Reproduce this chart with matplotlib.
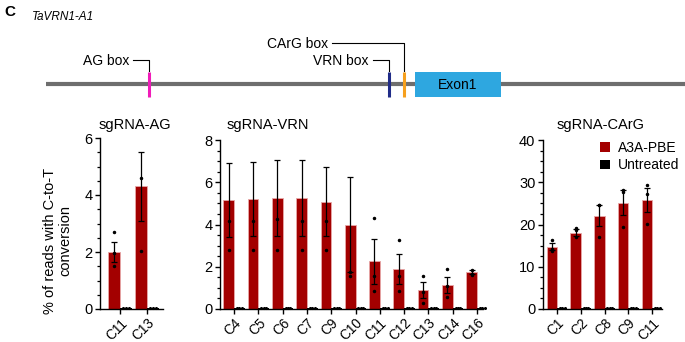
import matplotlib
matplotlib.use('Agg')
import matplotlib.pyplot as plt
from matplotlib.ticker import MultipleLocator
from matplotlib.patches import Rectangle, Patch

plt.rcParams['font.family'] = ['Liberation Sans', 'DejaVu Sans']

# ---- data ----
ag_sites = ['C11', 'C13']
ag_mean = [2.0, 4.3]
ag_err = [0.35, 1.2]
ag_points = [[2.7, 1.95, 1.5], [4.6, 2.05]]

vrn_sites = ['C4', 'C5', 'C6', 'C7', 'C9', 'C10', 'C11', 'C12', 'C13', 'C14', 'C16']
vrn_mean = [5.16, 5.2, 5.26, 5.24, 5.08, 4.0, 2.25, 1.9, 0.9, 1.15, 1.75]
vrn_err = [1.73, 1.76, 1.79, 1.79, 1.63, 2.27, 1.05, 0.71, 0.4, 0.38, 0.08]
vrn_points = [[4.16, 2.79], [4.16, 2.79], [4.24, 2.79], [4.16, 2.79], [4.16, 2.79],
              [1.75, 1.57], [4.3, 1.57, 0.86], [3.27, 1.57, 0.86], [1.57, 0.82, 0.3],
              [1.87, 1.1, 0.55], [1.85, 1.65, 1.6]]

carg_sites = ['C1', 'C2', 'C8', 'C9', 'C11']
carg_mean = [14.75, 18.07, 22.1, 25.2, 25.8]
carg_err = [0.85, 0.75, 2.5, 3.0, 2.75]
carg_points = [[16.3, 14.2, 13.7], [19.2, 18.8, 17.0], [24.6, 24.5, 17.0],
               [28.2, 27.8, 19.5], [29.3, 27.2, 20.1]]

untreated_frac = 0.008  # untreated values as fraction of axis max (near zero)

# gene schematic (pixel positions along the figure)
features = ['AG box', 'VRN box', 'CArG box']
feature_x = [149, 389, 404]
feature_colors = ['#F01CB8', '#202C88', '#F6A01E']

W, H = 685, 342
RED = '#A30000'

fig = plt.figure(figsize=(W / 100, H / 100), dpi=100)


def px_axes(x0, x1, ytop, ybot):
    return fig.add_axes([x0 / W, 1 - ybot / H, (x1 - x0) / W, (ybot - ytop) / H])


def panel(ax, sites, mean, err, points, ymax, major, minor, xlim):
    n = len(sites)
    xs = list(range(n))
    bw = 0.44
    red_x = [x - bw / 2 for x in xs]
    unt_x = [x + bw / 2 for x in xs]
    ax.bar(red_x, mean, width=bw, color=RED, edgecolor='#E8A8A8', linewidth=0.6, zorder=2)
    ax.errorbar(red_x, mean, yerr=err, fmt='none', ecolor='black', elinewidth=0.9,
                capsize=2.5, capthick=0.9, zorder=3)
    for x, pts in zip(red_x, points):
        ax.plot([x] * len(pts), pts, 'o', color='black', ms=1.5, zorder=4, clip_on=True)
    unt = [ymax * untreated_frac] * n
    ax.bar(unt_x, unt, width=bw, color='black', zorder=2)
    for x in unt_x:
        ax.plot([x - 0.1, x, x + 0.1], [ymax * 0.004] * 3, 'o', color='black', ms=1.2,
                zorder=4, clip_on=False)
    ax.set_ylim(0, ymax)
    ax.set_xlim(*xlim)
    ax.yaxis.set_major_locator(MultipleLocator(major))
    ax.yaxis.set_minor_locator(MultipleLocator(minor))
    ax.set_xticks(xs)
    ax.set_xticklabels(sites, rotation=45, ha='right', rotation_mode='anchor')
    for s in ['top', 'right']:
        ax.spines[s].set_visible(False)
    for s in ['left', 'bottom']:
        ax.spines[s].set_linewidth(1.0)
    ax.tick_params(axis='both', which='major', length=3.5, width=1.0, labelsize=10.5, pad=2)
    ax.tick_params(axis='y', which='minor', length=2.2, width=0.9)
    ax.tick_params(axis='x', which='major', pad=1.5, labelsize=9.8)


ax1 = px_axes(100, 163, 138, 309)
panel(ax1, ag_sites, ag_mean, ag_err, ag_points, 6, 2, 0.5, (-0.74, 1.59))
ax2 = px_axes(220, 483, 140, 309)
panel(ax2, vrn_sites, vrn_mean, vrn_err, vrn_points, 8, 2, 0.5, (-0.58, 10.25))
ax3 = px_axes(543, 662, 140, 309)
panel(ax3, carg_sites, carg_mean, carg_err, carg_points, 40, 10, 2.5, (-0.59, 4.42))

# overlay for schematic and text placed in pixel space
ov = fig.add_axes([0, 0, 1, 1], zorder=-1)
ov.set_xlim(0, W)
ov.set_ylim(H, 0)
ov.axis('off')

ov.text(4, 12, 'C', fontsize=11, fontweight='bold', va='center', ha='left')
ov.text(32, 17, 'TaVRN1-A1', fontsize=8.5, style='italic', va='center', ha='left')

ov.plot([46, W], [84, 84], color='#6E6E6E', lw=3, solid_capstyle='butt')
ov.add_patch(Rectangle((415, 72), 86, 25, facecolor='#2EA7E0', edgecolor='none', zorder=3))
ov.text(458, 85, 'Exon1', fontsize=10, ha='center', va='center', zorder=4)

label_y = [60, 60, 43]
label_x = [133, 373, 332]
for name, fx, col, ly, lx in zip(features, feature_x, feature_colors, label_y, label_x):
    ov.plot([fx, fx], [72, 97], color=col, lw=2.2, solid_capstyle='butt', zorder=4)
    ov.plot([lx, fx, fx], [ly, ly, 71], color='black', lw=0.8)
    ov.text(lx - 4, ly + 1, name, fontsize=10, ha='right', va='center')

ov.text(135, 125, 'sgRNA-AG', fontsize=10.5, ha='center', va='center')
ov.text(227, 125, 'sgRNA-VRN', fontsize=10.5, ha='left', va='center')
ov.text(601, 125, 'sgRNA-CArG', fontsize=10.5, ha='center', va='center')

ov.text(58, 241, '% of reads with C-to-T\nconversion', fontsize=10.5, rotation=90,
        ha='center', va='center', multialignment='center', linespacing=1.1)

handles = [Patch(facecolor=RED, edgecolor='none'), Patch(facecolor='black', edgecolor='none')]
fig.legend(handles, ['A3A-PBE', 'Untreated'], loc='upper left',
           bbox_to_anchor=(600 / W, 1 - 141 / H), frameon=False, fontsize=10,
           handlelength=0.7, handleheight=0.7, handletextpad=0.6, labelspacing=0.25,
           borderpad=0, borderaxespad=0)

fig.savefig('out.png', dpi=100)
